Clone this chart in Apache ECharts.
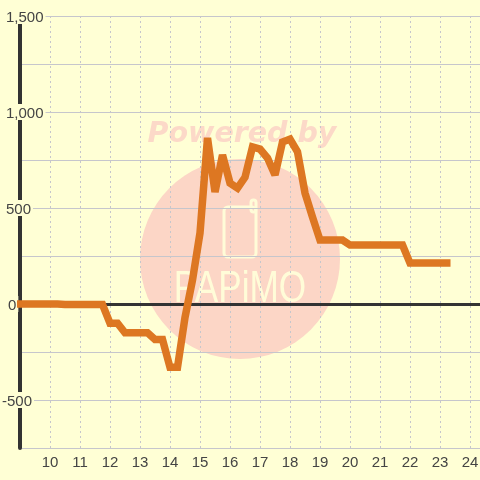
<!DOCTYPE html>
<html>
<head>
<meta charset="utf-8">
<style>
html,body{margin:0;padding:0;background:#ffffd5}
#chart{width:480px;height:480px}
</style>
<script src="https://cdn.jsdelivr.net/npm/echarts@6/dist/echarts.min.js"></script>
</head>
<body>
<div id="chart"></div>
<script>
var hours = [8.9,9,9.25,9.5,9.75,10,10.25,10.5,10.75,11,11.25,11.5,11.75,12,12.25,12.5,12.75,13,13.25,13.5,13.75,14,14.25,14.5,14.75,15,15.25,15.5,15.75,16,16.25,16.5,16.75,17,17.25,17.5,17.75,18,18.25,18.5,18.75,19,19.25,19.5,19.75,20,20.25,20.5,20.75,21,21.25,21.5,21.75,22,22.25,22.5,22.75,23,23.35];
var values = [0,0,0,0,0,0,0,-2,-3,-3,-3,-3,-3,-100,-100,-150,-150,-150,-150,-185,-185,-330,-330,-70,125,370,865,583,776,630,604,660,818,807,760,672,844,859,792,578,453,333,333,333,333,307,307,307,307,307,307,307,307,213,213,213,213,213,213];
var yMin = -750, yMax = 1500, yStep = 250;
var xMin = 9, xMax = 24.333, xStep = 1;

var bgColor = '#ffffd5';
var gridColor = '#c6c6cc';
var axisColor = '#333333';
var textColor = '#444444';
var lineColor = '#dd7722';
var logoColor = '#fffcd8';

var points = hours.map(function (h, i) { return [h, values[i]]; });

var chart = echarts.init(document.getElementById('chart'), null, {renderer: 'canvas'});

function yLabel(v) {
    if (v % 500 !== 0) return '';
    var s = v === 0 ? '0' : (v < 0 ? '-' + Math.abs(v) : echarts.format.addCommas(v));
    var key = v === 0 ? 'zero' : (v < 0 ? 'neg' : 'pos');
    return '{' + key + '|' + s + '}';
}
var labelBase = {fontSize: 15, color: textColor, backgroundColor: bgColor, fontFamily: 'Liberation Sans', height: 13, lineHeight: 13};

chart.setOption({
    backgroundColor: bgColor,
    animation: false,
    grid: {left: 20, right: 0, top: 16, bottom: 32, outerBoundsMode: 'none'},
    graphic: [
        {type: 'circle', z: -1, silent: true, shape: {cx: 240, cy: 259, r: 100}, style: {fill: '#fcd6c6'}},
        {type: 'text', z: -1, silent: true, x: 242, y: 135, style: {
            text: 'Powered by', fill: '#fcd9c8', font: 'italic bold 28.5px "DejaVu Sans"', align: 'center', verticalAlign: 'middle'
        }},
        {type: 'rect', z: -1, silent: true, shape: {x: 224, y: 207, width: 32, height: 50, r: 4},
            style: {fill: 'none', stroke: logoColor, lineWidth: 3}},
        {type: 'rect', z: -1, silent: true, shape: {x: 251, y: 200, width: 5, height: 12, r: 2.5},
            style: {fill: 'none', stroke: logoColor, lineWidth: 3}},
        {type: 'text', z: -1, silent: true, x: 240, y: 290, scaleX: 0.8, style: {
            text: 'PAPiMO', fill: logoColor, font: '44px "Liberation Sans"', align: 'center', verticalAlign: 'middle'
        }}
    ],
    xAxis: [{
        type: 'value', min: xMin, max: xMax, interval: xStep, position: 'bottom',
        axisLine: {show: false, onZero: false},
        axisTick: {show: false},
        axisLabel: {fontSize: 15, color: textColor, fontFamily: 'Liberation Sans', margin: 7, showMinLabel: false, showMaxLabel: false},
        splitLine: {show: true, lineStyle: {color: gridColor, type: [2, 3], width: 1}}
    }, {
        type: 'value', min: xMin, max: xMax, interval: xStep, position: 'bottom',
        axisLine: {show: true, onZero: true, lineStyle: {color: axisColor, width: 3}},
        axisTick: {show: false}, axisLabel: {show: false}, splitLine: {show: false}
    }],
    yAxis: {
        type: 'value', min: yMin, max: yMax, interval: yStep,
        axisLine: {show: true, onZero: false, lineStyle: {color: axisColor, width: 4}},
        axisTick: {show: false},
        axisLabel: {
            align: 'left', margin: 18, formatter: yLabel,
            rich: {
                pos: Object.assign({padding: [3, 2, 0, 4]}, labelBase),
                zero: Object.assign({padding: [3, 2, 0, 6]}, labelBase),
                neg: Object.assign({padding: [3, 2, 0, 0]}, labelBase)
            }
        },
        splitLine: {show: true, lineStyle: {color: gridColor, width: 1}}
    },
    series: [{
        type: 'line', data: points, showSymbol: false, silent: true, clip: false,
        lineStyle: {color: lineColor, width: 7.5, cap: 'butt', join: 'miter', miterLimit: 3}
    }]
});
</script>
</body>
</html>
